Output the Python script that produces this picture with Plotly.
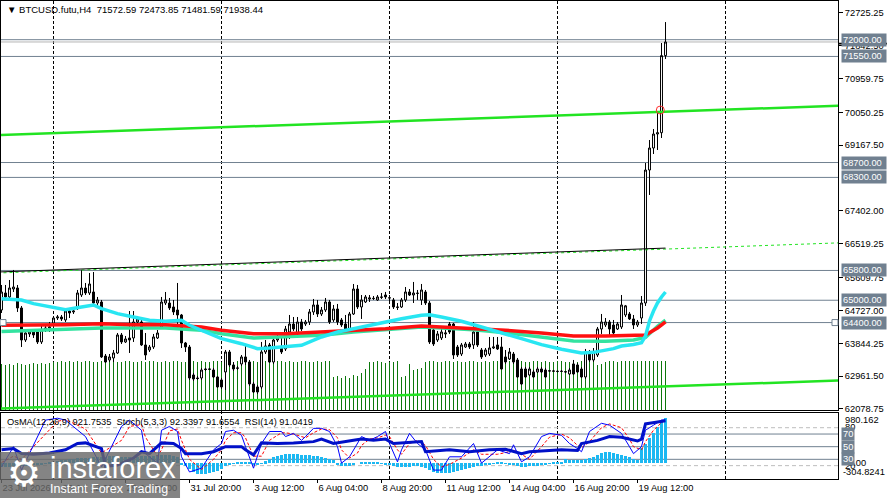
import plotly.graph_objects as go

# BTCUSD.futu, H4 - bars oldest first (bar index 0..166)
opens = [
    64738, 65195, 65088, 65302, 65329, 64792, 63932, 64094, 64147, 64147,
    63879, 64201, 64255, 64389, 64523, 64550, 64470, 64711, 64685, 64792,
    65141, 65329, 65195, 65222, 64926, 64953, 63502, 63395, 63449, 63583,
    64067, 63879, 63986, 63986, 64416, 64416, 63798, 63664, 63744, 63986,
    64282, 64926, 64926, 64819, 64738, 64604, 63852, 63744, 62992, 62911,
    62911, 63153, 63153, 63126, 62938, 62858, 63073, 63610, 63261, 63180,
    63288, 63476, 63341, 62750, 62670, 62670, 63610, 63798, 63341, 63932,
    63744, 63691, 64147, 64362, 64094, 64416, 64362, 64416, 64685, 64873,
    64631, 64738, 64953, 64470, 64765, 64470, 64362, 64228, 64631, 65302,
    64819, 64953, 65034, 65045, 65007, 65088, 65141, 65061, 65007, 64819,
    64819, 65007, 65222, 65141, 65190, 65007, 65222, 64926, 64201, 63932,
    63986, 64094, 64362, 64362, 63744, 63556, 63744, 63825, 63798, 64147,
    63664, 63529, 63556, 63717, 63798, 63744, 63476, 63422, 63556, 63395,
    63153, 63153, 62992, 63073, 63073, 63153, 63126, 63105, 63100, 63090,
    63088, 63080, 63019, 63288, 63261, 63153, 62938, 63610, 63395, 63529,
    64228, 64335, 64416, 64335, 64228, 64282, 64604, 64631, 64497, 64335,
    64523, 64926, 68499, 69090, 69466, 69501, 71572.59,
]
highs = [
    65410, 65410, 65544, 65813, 65410, 64846, 64201, 64201, 64201, 64201,
    64335, 64309, 64416, 64577, 64604, 64604, 64765, 64792, 64765, 65276,
    65813, 65464, 65732, 65759, 65088, 65007, 63556, 63556, 63664, 64120,
    64120, 64040, 64711, 64711, 64577, 64470, 64120, 63798, 64094, 64201,
    65088, 65222, 65061, 65007, 65464, 64631, 63879, 63798, 63046, 62965,
    63180, 63180, 63180, 63180, 62965, 62911, 63664, 63664, 63341, 63234,
    63529, 63798, 63395, 62804, 62723, 63879, 63932, 63852, 63986, 64067,
    64013, 64309, 64604, 64550, 64550, 64497, 64470, 64765, 65034, 65007,
    64819, 65061, 65007, 64873, 64900, 64523, 64604, 64685, 65437, 65410,
    65141, 65141, 65141, 65114, 65141, 65195, 65222, 65141, 65061, 64926,
    65061, 65356, 65302, 65491, 65276, 65437, 65276, 64980, 64255, 64174,
    64228, 64201, 64416, 64389, 63798, 63852, 63879, 63879, 64416, 64201,
    63717, 63717, 64013, 64013, 64013, 64013, 63664, 63717, 63610, 63449,
    63207, 63207, 63207, 63126, 63207, 63207, 63180, 63126, 63126, 63113,
    63126, 63099, 63180, 63395, 63314, 63207, 63691, 63664, 63717, 64282,
    64631, 64523, 64470, 64470, 64416, 65141, 64873, 64685, 64604, 64470,
    65114, 68687, 69305, 69600, 70030, 71911, 72473.85,
]
lows = [
    64658, 65007, 65034, 65222, 64685, 63744, 63879, 64013, 63986, 63825,
    63825, 64147, 64147, 64335, 64470, 64443, 64416, 64523, 64631, 64738,
    65088, 65141, 65141, 64819, 64873, 63449, 63314, 63341, 63341, 63556,
    63825, 63852, 63583, 63879, 64362, 63771, 63395, 63610, 63691, 63959,
    64228, 64873, 64738, 64604, 64201, 63717, 63610, 62858, 62831, 62858,
    62858, 63099, 63126, 62911, 62643, 62616, 62589, 63207, 63099, 63126,
    63234, 63261, 62696, 62508, 62481, 62616, 63556, 63314, 63288, 63879,
    63556, 63637, 63959, 64174, 63986, 64174, 64309, 64335, 64604, 64550,
    64577, 64685, 64362, 64416, 64335, 64282, 64147, 64174, 64604, 64765,
    64497, 64926, 64953, 65007, 64980, 65034, 65034, 64953, 64765, 64738,
    64792, 64953, 65114, 64926, 65007, 64873, 64873, 63825, 63771, 63879,
    63932, 63986, 64094, 63422, 63476, 63502, 63717, 63691, 63691, 63744,
    63422, 63476, 63502, 63691, 63664, 63140, 63288, 63395, 63288, 62911,
    62723, 62911, 62965, 62911, 63046, 63046, 62911, 63073, 63073, 63060,
    63073, 63046, 62992, 62992, 63046, 62911, 62884, 63341, 63341, 63476,
    64094, 64282, 64067, 64013, 64201, 64228, 64550, 64470, 64228, 64282,
    64362, 64846, 67828, 68929, 69037, 69359, 71481.59,
]
closes = [
    65222, 65088, 65329, 65356, 64792, 63932, 64120, 64147, 64067, 63879,
    64201, 64255, 64282, 64523, 64550, 64497, 64711, 64658, 64711, 65195,
    65329, 65195, 65437, 64926, 65007, 63476, 63341, 63476, 63583, 64067,
    63879, 63959, 63932, 64416, 64497, 63798, 63529, 63744, 64013, 64120,
    64953, 65007, 64792, 64685, 64604, 63852, 63744, 62911, 62884, 62898,
    63126, 63140, 63145, 62938, 62670, 62670, 63610, 63261, 63153, 63175,
    63476, 63341, 62750, 62535, 62535, 63610, 63771, 63341, 63932, 63986,
    63610, 64228, 64362, 64228, 64416, 64228, 64416, 64685, 64873, 64631,
    64738, 64953, 64416, 64765, 64416, 64335, 64228, 64631, 65302, 64819,
    65007, 65088, 65061, 65050, 65088, 65080, 65088, 65065, 64819, 64810,
    65007, 65222, 65141, 65195, 65185, 65276, 64926, 63879, 63825, 64094,
    64147, 64120, 64147, 63529, 63529, 63798, 63825, 63744, 64147, 63798,
    63476, 63664, 63717, 63744, 63691, 63153, 63341, 63610, 63341, 62938,
    62750, 62938, 63153, 62938, 63153, 63073, 62938, 63100, 63095, 63088,
    63090, 63075, 63126, 63019, 63073, 62938, 63610, 63395, 63610, 64228,
    64416, 64416, 64228, 64120, 64362, 64873, 64850, 64497, 64335, 64416,
    64926, 68499, 69090, 69466, 69501, 71572.59, 71938.44,
]
volumes = [
    112, 110, 113, 111, 114, 112, 110, 113, 115, 112, 114, 113, 116,
    118, 117, 119, 118, 120, 117, 119, 118, 120, 119, 118, 117, 119, 120,
    118, 119, 117, 118, 120, 119, 118, 117, 119, 118, 120, 119, 118, 117,
    119, 118, 120, 119, 118, 117, 119, 120, 118, 119, 117, 118, 120, 119,
    118, 119, 117, 118, 120, 119, 118, 117, 119, 118, 120, 119, 118, 117,
    119, 120, 118, 119, 117, 118, 120, 119, 118, 117, 119, 118, 120, 119,
    80, 84, 78, 82, 79, 85, 83, 90, 100,
    118, 117, 119, 118, 116, 118, 117, 119,
    81, 84, 112, 98, 100, 102,
    118, 119, 120, 118, 117, 119, 120, 118, 119, 117, 118, 120, 119, 118,
    117, 119, 118, 120, 119, 118, 117, 119, 120, 118, 119, 117, 118, 120,
    119, 118, 119, 117, 118, 120, 119, 118, 117, 119, 118, 120, 119, 118,
    117, 110, 112, 118, 119, 120, 118, 119, 120, 119, 120, 119, 120, 120,
    120, 119, 120, 120, 120,
]
bars = list(range(len(closes)))
assert len(opens) == len(highs) == len(lows) == len(closes) == len(volumes) == 167

# moving averages (bar index, price)
ma_cyan_i = [0, 5, 8, 12, 16, 20, 23, 25, 29, 33, 37, 41, 45, 47, 51, 55, 60, 64, 67, 71,
             75, 80, 84, 88, 92, 96, 100, 105, 107, 110, 115, 120, 124, 130, 135, 140,
             145, 148, 153, 155, 158, 160, 161, 162, 163, 164, 165, 166]
ma_cyan = [65042, 65007, 64908, 64819, 64746, 64819, 64873, 64773, 64639, 64550, 64462,
           64435, 64462, 64327, 64147, 63967, 63833, 63699, 63717, 63744, 63790, 64013,
           64147, 64236, 64327, 64416, 64504, 64596, 64612, 64550, 64435, 64282, 64147,
           63967, 63806, 63682, 63583, 63600, 63700, 63770, 63810, 63860, 64040, 64443,
           64711, 64926, 65088, 65222]
ma_red_i = [0, 8, 16, 25, 33, 41, 50, 55, 63, 71, 80, 88, 96, 105, 110, 118, 126, 135,
            143, 151, 158, 161, 164, 166]
ma_red = [64327, 64327, 64343, 64370, 64343, 64343, 64282, 64193, 64102, 64102, 64147,
          64193, 64236, 64309, 64282, 64236, 64193, 64120, 64040, 64040, 64050, 64066,
          64255, 64420]
ma_teal_i = [0, 8, 16, 25, 33, 41, 50, 55, 63, 71, 80, 88, 96, 105, 110, 118, 126, 135,
             143, 151, 158, 161, 164, 166]
ma_teal = [64158, 64193, 64209, 64255, 64255, 64255, 64193, 64102, 63986, 64013, 64058,
           64147, 64209, 64282, 64255, 64209, 64129, 64013, 63905, 63897, 63930, 64000,
           64300, 64462]

# channel (bar index, price)
chan_i = [-1, 210]
chan_upper = [69436, 70229]
chan_mid = [65731, 66544]
chan_lower = [62086, 62844]
mid_solid_i = [-1, 166]
mid_solid = [65758, 66401]

alert_i = [164.7]
alert_price = [70110]

levels = [72000, 71550, 68700, 68300, 65800, 65000, 64400]
bid = closes[-1]

price_ticks = [72725.25, 71842.50, 70959.75, 70050.25, 69167.50, 67402.00, 66519.25,
               65609.75, 64727.00, 63844.25, 62961.50, 62078.75]

time_ticks = [0, 15, 31, 47, 63, 79, 95, 111, 127, 143, 159]
time_labels = ["23 Jul 2026", "26 Jul 12:00", "29 Jul 04:00", "31 Jul 20:00",
               "3 Aug 12:00", "6 Aug 04:00", "8 Aug 20:00", "11 Aug 12:00",
               "14 Aug 04:00", "16 Aug 20:00", "19 Aug 12:00"]
separators = [13, 55, 97, 139, 181]

# OsMA(12,26,9)
osma = [
    -80, -75, -70, -65, -60, -55, -50, -45, -40, -30, -20, -10,
    20, 35, 50, 60, 70, 80, 90, 100, 105,
    110, 115, 120, 125, 130, 135, 140, 140, 135, 130,
    125, 125, 130, 135, 140, 145, 150, 155, 160, 165, 168, 165, 150, 120,
    -20, -60, -120, -170, -210, -225, -220, -200, -180, -150, -110,
    -60, -30, -10, 10, 20, 20, 10, -20, -30, -10,
    40, 80, 120, 150, 170, 180, 185, 185, 180, 175, 165, 160, 150, 140, 120, 100, 80, 60,
    -20, -50, -60, -50, -30,
    0, 10, 20, 25, 20, 15, 5,
    -20, -40, -50, -70, -80, -80, -70, -60, -60, -70, -100,
    -130, -170, -190, -200, -195, -190, -180, -160, -140, -120, -100,
    -80, -60, -50, -40, -30,
    -10, 10, 15,
    -10, -20, -40, -60, -70, -70, -60, -55, -50, -40, -30,
    -10, 10, 20, 30,
    80, 70, 60, 65, 75, 90, 110, 125, 160, 210, 230, 235, 215, 190, 170, 145, 125, 85, 60,
    300, 400, 510, 610, 730, 840, 921.7535,
]
assert len(osma) == 167

# Stochastic(5,3,3) main / signal and RSI(14), sampled (bar index, value)
stoch_i = [0, 3, 5, 11, 14, 16, 21, 25, 30, 32, 35, 36, 39, 40, 42, 44, 45, 47, 50, 53,
           55, 56, 58, 60, 61, 63, 65, 67, 70, 71, 73, 75, 76, 78, 80, 82, 84, 85, 87, 89,
           90, 92, 94, 96, 97, 99, 100, 102, 104, 106, 108, 110, 112, 115, 118, 120, 124,
           127, 128, 130, 132, 135, 137, 140, 142, 144, 145, 147, 150, 152, 155, 157, 158,
           160, 161, 163, 165, 166]
stoch_main = [18, 50, 13, 92, 95, 92, 66, 18, 82, 92, 76, 39, 24, 76, 82, 74, 34, 10, 16,
              45, 55, 74, 76, 68, 50, 16, 55, 74, 74, 66, 71, 60, 66, 79, 79, 74, 50, 24,
              34, 55, 66, 60, 66, 74, 55, 26, 45, 71, 55, 45, 13, 13, 34, 34, 55, 24, 45,
              39, 53, 26, 34, 66, 71, 68, 55, 47, 42, 74, 87, 84, 71, 50, 39, 50, 76, 84,
              92, 92.3397]
stoch_signal = [25, 35, 30, 70, 90, 93, 78, 40, 60, 82, 85, 65, 35, 45, 75, 78, 60, 30,
                14, 30, 45, 60, 72, 72, 64, 35, 35, 60, 72, 72, 70, 66, 64, 72, 78, 77,
                64, 45, 32, 40, 52, 62, 64, 68, 66, 45, 38, 55, 60, 52, 30, 18, 22, 32,
                45, 38, 38, 42, 45, 38, 30, 50, 65, 70, 64, 52, 48, 58, 80, 86, 80, 62,
                50, 45, 58, 76, 88, 91.6554]
rsi_i = [0, 3, 5, 8, 12, 16, 19, 21, 25, 26, 29, 33, 35, 37, 40, 43, 45, 46, 50, 53, 56,
         60, 61, 63, 65, 69, 73, 78, 80, 83, 88, 90, 93, 96, 98, 101, 105, 106, 109, 112,
         117, 122, 126, 130, 132, 136, 140, 144, 145, 149, 152, 155, 158, 159, 160, 161,
         162, 163, 164, 165, 166]
rsi = [45, 47, 39, 38, 40, 45, 55, 56, 47, 19, 21, 32, 42, 39, 56, 55, 47, 39, 39, 42,
       50, 50, 45, 37, 56, 55, 56, 58, 62, 55, 60, 62, 60, 62, 55, 56, 58, 42, 43, 45, 42,
       45, 46, 39, 42, 43, 45, 44, 55, 60, 66, 65, 60, 59, 62, 86, 87, 88, 89, 90, 91.0419]
ind_levels_solid = [70, 50, 30]
ind_levels_dash = [80, 20]

SLATE = "#708090"
FONT = "Liberation Sans"
x_range = [-0.125, 209.125]

fig = go.Figure()

# volumes behind the price
fig.add_trace(go.Bar(x=bars, y=volumes, width=0.25, marker_color="#0c780c",
                     marker_line_width=0, xaxis="x", yaxis="y", hoverinfo="skip"))

# channel
fig.add_trace(go.Scatter(x=chan_i, y=chan_upper, mode="lines",
                         line=dict(color="#22e422", width=2.5), xaxis="x", yaxis="y3"))
fig.add_trace(go.Scatter(x=chan_i, y=chan_lower, mode="lines",
                         line=dict(color="#22e422", width=2.5), xaxis="x", yaxis="y3"))
fig.add_trace(go.Scatter(x=chan_i, y=chan_mid, mode="lines",
                         line=dict(color="#22e422", width=1, dash="3px,3px"),
                         xaxis="x", yaxis="y3"))
fig.add_trace(go.Scatter(x=mid_solid_i, y=mid_solid, mode="lines",
                         line=dict(color="black", width=1), xaxis="x", yaxis="y3"))

# moving averages
fig.add_trace(go.Scatter(x=ma_teal_i, y=ma_teal, mode="lines",
                         line=dict(color="#33e3a0", width=3.5), xaxis="x", yaxis="y3"))
fig.add_trace(go.Scatter(x=ma_red_i, y=ma_red, mode="lines",
                         line=dict(color="#ff1010", width=3.5), xaxis="x", yaxis="y3"))
fig.add_trace(go.Scatter(x=ma_cyan_i, y=ma_cyan, mode="lines",
                         line=dict(color="#28e6f2", width=3.5), xaxis="x", yaxis="y3"))

# candles
fig.add_trace(go.Candlestick(
    x=bars, open=opens, high=highs, low=lows, close=closes,
    increasing=dict(line=dict(color="black", width=1), fillcolor="white"),
    decreasing=dict(line=dict(color="black", width=1), fillcolor="black"),
    whiskerwidth=0, xaxis="x", yaxis="y3", hoverinfo="skip",
))

fig.add_trace(go.Scatter(x=alert_i, y=alert_price, mode="markers",
                         marker=dict(symbol="circle-open", size=8, color="#ff3030",
                                     line=dict(width=1)),
                         xaxis="x", yaxis="y3"))

# indicator window
fig.add_trace(go.Bar(x=bars, y=osma, width=0.6, marker_color="#1cb8f2",
                     marker_line_width=0, xaxis="x2", yaxis="y2", hoverinfo="skip"))
fig.add_trace(go.Scatter(x=stoch_i, y=stoch_signal, mode="lines",
                         line=dict(color="red", width=1, dash="3px,2px"),
                         xaxis="x2", yaxis="y4"))
fig.add_trace(go.Scatter(x=stoch_i, y=stoch_main, mode="lines",
                         line=dict(color="blue", width=1), xaxis="x2", yaxis="y4"))
fig.add_trace(go.Scatter(x=rsi_i, y=rsi, mode="lines",
                         line=dict(color="#0010c8", width=3), xaxis="x2", yaxis="y4"))

shapes = []
for s in separators:
    shapes.append(dict(type="line", xref="x", yref="paper", x0=s, x1=s, y0=0, y1=1,
                       line=dict(color="black", width=1, dash="3px,2px"), layer="below"))
for lv in levels:
    shapes.append(dict(type="line", xref="paper", yref="y3", x0=0, x1=1, y0=lv, y1=lv,
                       line=dict(color=SLATE, width=1), layer="below"))
shapes.append(dict(type="line", xref="paper", yref="y3", x0=0, x1=1, y0=bid, y1=bid,
                   line=dict(color="#b4b4b4", width=1), layer="below"))
for lv in ind_levels_solid:
    shapes.append(dict(type="line", xref="paper", yref="y4", x0=0, x1=1, y0=lv, y1=lv,
                       line=dict(color=SLATE, width=1), layer="below"))
for lv in ind_levels_dash:
    shapes.append(dict(type="line", xref="paper", yref="y4", x0=0, x1=1, y0=lv, y1=lv,
                       line=dict(color="#bdbdbd", width=1, dash="4px,3px"), layer="below"))
# anchors of the 64400 line
for xa in [0.0024, 0.9964]:
    shapes.append(dict(type="rect", xref="paper", yref="y3", xsizemode="pixel",
                       ysizemode="pixel", xanchor=xa, yanchor=64400, x0=-3, x1=3,
                       y0=-3, y1=3, line=dict(color=SLATE, width=1), fillcolor="white"))
# current price marker on the scale
shapes.append(dict(type="rect", xref="paper", yref="y3", x0=1.0, x1=1.06,
                   y0=bid - 70, y1=bid - 20, line_width=0, fillcolor="black"))
# watermark box
shapes.append(dict(type="rect", xref="paper", yref="paper", x0=-0.002, x1=0.2139,
                   y0=-0.045, y1=0.0565, line_width=0, fillcolor="rgba(105,105,105,0.82)",
                   layer="above"))

annotations = [
    dict(xref="paper", yref="paper", x=0.0048, y=0.983, xanchor="left", yanchor="middle",
         showarrow=False, font=dict(size=9.5, color="black"),
         text=f"\u25bc BTCUSD.futu,H4\u00a0 {opens[-1]:.2f} {highs[-1]:.2f} "
              f"{lows[-1]:.2f} {closes[-1]:.2f}"),
    dict(xref="paper", yref="paper", x=0.0048, y=0.1192, xanchor="left", yanchor="middle",
         showarrow=False, font=dict(size=9.3, color="black"),
         text=f"OsMA(12,26,9) {osma[-1]:.4f}\u00a0 Stoch(5,3,3) {stoch_main[-1]:.4f} "
              f"{stoch_signal[-1]:.4f}\u00a0 RSI(14) {rsi[-1]:.4f}"),
]
for lv in levels:
    annotations.append(dict(xref="paper", yref="y3", x=1.0036, y=lv, xanchor="left",
                            yanchor="middle", showarrow=False, text=f"{lv:.2f}",
                            bgcolor=SLATE, font=dict(color="white", size=9.3),
                            borderpad=1, width=42, height=10, align="left"))
# indicator scale texts
annotations += [
    dict(xref="paper", yref="paper", x=1.006, y=0.1234, xanchor="left", yanchor="middle",
         showarrow=False, text="980.162", font=dict(size=9.3, color="black")),
    dict(xref="paper", yref="paper", x=1.006, y=0.1088, xanchor="left", yanchor="middle",
         showarrow=False, text="80", font=dict(size=9.3, color="black")),
    dict(xref="paper", yref="paper", x=1.0095, y=0.0335, xanchor="left", yanchor="middle",
         showarrow=False, text="0.00", font=dict(size=9.3, color="black")),
    dict(xref="paper", yref="paper", x=1.006, y=0.0272, xanchor="left", yanchor="middle",
         showarrow=False, text="20", font=dict(size=9.3, color="black")),
    dict(xref="paper", yref="paper", x=1.0036, y=0.0146, xanchor="left", yanchor="middle",
         showarrow=False, text="-304.8241", font=dict(size=9.3, color="black")),
]
for lv in ind_levels_solid:
    annotations.append(dict(xref="paper", yref="y4", x=1.0036, y=lv, xanchor="left",
                            yanchor="middle", showarrow=False, text=str(lv),
                            bgcolor=SLATE, font=dict(color="white", size=9.3),
                            borderpad=1))
# watermark
annotations += [
    dict(xref="paper", yref="paper", x=0.0275, y=0.012, xanchor="center",
         yanchor="middle", showarrow=False, text="\u2699",
         font=dict(size=38, color="white", family="DejaVu Sans")),
    dict(xref="paper", yref="paper", x=0.056, y=0.024, xanchor="left", yanchor="middle",
         showarrow=False, text="instaforex", font=dict(size=29, color="white")),
    dict(xref="paper", yref="paper", x=0.056, y=-0.021, xanchor="left", yanchor="middle",
         showarrow=False, text="Instant Forex Trading", font=dict(size=12.5, color="white")),
]

fig.update_layout(
    width=887, height=498,
    margin=dict(l=1, r=49, t=1, b=19),
    paper_bgcolor="white", plot_bgcolor="white",
    font=dict(family=FONT, size=9.3, color="black"),
    showlegend=False, hovermode=False,
    boxgap=0.3, bargap=0,
    xaxis=dict(domain=[0, 1], range=x_range, anchor="y", showline=True, mirror=True,
               linecolor="black", linewidth=1, showticklabels=False, ticks="",
               showgrid=False, zeroline=False, rangeslider=dict(visible=False)),
    yaxis=dict(domain=[0.1444, 1], range=[0, 1000], anchor="x", showline=True,
               mirror=True, linecolor="black", linewidth=1, showticklabels=False,
               showgrid=False, zeroline=False, fixedrange=True),
    yaxis3=dict(overlaying="y", anchor="x", side="right", range=[62051.7, 73039.5],
                tickvals=price_ticks, ticktext=[f"{v:.2f}" for v in price_ticks],
                ticks="outside", ticklen=4, tickcolor="black", showgrid=False,
                zeroline=False, showline=False, tickfont=dict(size=9.3)),
    xaxis2=dict(domain=[0, 1], range=x_range, anchor="y2", matches="x", showline=True,
                mirror=True, linecolor="black", linewidth=1, tickvals=time_ticks,
                ticktext=time_labels, ticks="outside", ticklen=3, tickcolor="black",
                ticklabelposition="outside right", tickangle=0, showgrid=False,
                zeroline=False, tickfont=dict(size=9.3)),
    yaxis2=dict(domain=[0, 0.138], range=[-319, 1021], anchor="x2", showline=True,
                mirror=True, linecolor="black", linewidth=1, showticklabels=False,
                showgrid=False, zeroline=False),
    yaxis4=dict(overlaying="y2", anchor="x2", range=[-1.1, 103.2], visible=False),
    shapes=shapes,
    annotations=annotations,
)

# the page's default body margin would shift the chart; drop it
fig.write_html("out.html", config={"displayModeBar": False},
               post_script="document.body.style.margin='0';")
